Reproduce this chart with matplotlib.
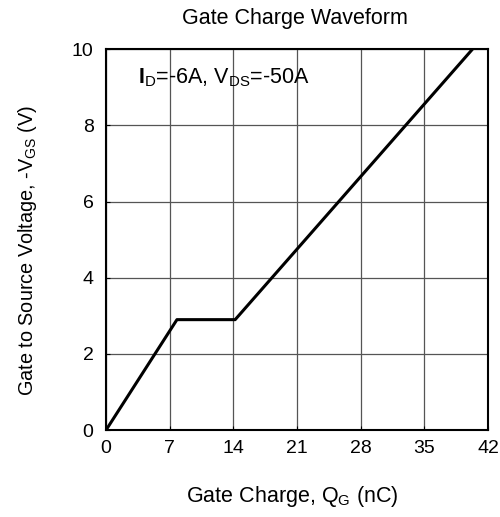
import matplotlib
matplotlib.use('Agg')
import matplotlib.pyplot as plt

plt.rcParams['font.family'] = ['Liberation Sans', 'DejaVu Sans']
plt.rcParams['mathtext.fontset'] = 'custom'
plt.rcParams['mathtext.rm'] = 'Liberation Sans'
plt.rcParams['mathtext.bf'] = 'Liberation Sans:bold'

# gate charge waveform (Qg in nC, -Vgs in V)
qg = [0, 7.8, 14.2, 40.3]
vgs = [0, 2.9, 2.9, 10]

xticks = [0, 7, 14, 21, 28, 35, 42]
yticks = [0, 2, 4, 6, 8, 10]

fig = plt.figure(figsize=(5, 5.17), dpi=100)
ax = fig.add_axes([0.212, 0.168, 0.764, 0.737])

ax.plot(qg, vgs, color='black', lw=2.2, solid_capstyle='butt')

ax.set_xlim(0, 42)
ax.set_ylim(0, 10)
ax.set_xticks(xticks)
ax.set_yticks(yticks)
ax.tick_params(direction='in', length=3, labelsize=14, color='black')
ax.tick_params(axis='x', pad=7)
ax.tick_params(axis='y', pad=9)
ax.grid(True, color='#555555', lw=0.9)
ax.set_axisbelow(True)
for s in ax.spines.values():
    s.set_linewidth(1.5)

ax.text(0.083, 0.925, r'$\mathbf{I}_{\mathrm{D}}$=-6A, V$_{\mathrm{DS}}$=-50A',
        transform=ax.transAxes, fontsize=15.5, va='center', ha='left')

fig.text(0.59, 0.965, 'Gate Charge Waveform', ha='center', va='center', fontsize=15.5)
fig.text(0.584, 0.039, r'Gate Charge, Q$_{\mathrm{G}}$ (nC)', ha='center', va='center', fontsize=15.5)
fig.text(0.056, 0.516, r'Gate to Source Voltage, -V$_{\mathrm{GS}}$ (V)', ha='center', va='center',
         rotation=90, fontsize=14.3)

fig.savefig('out.png', dpi=100)
